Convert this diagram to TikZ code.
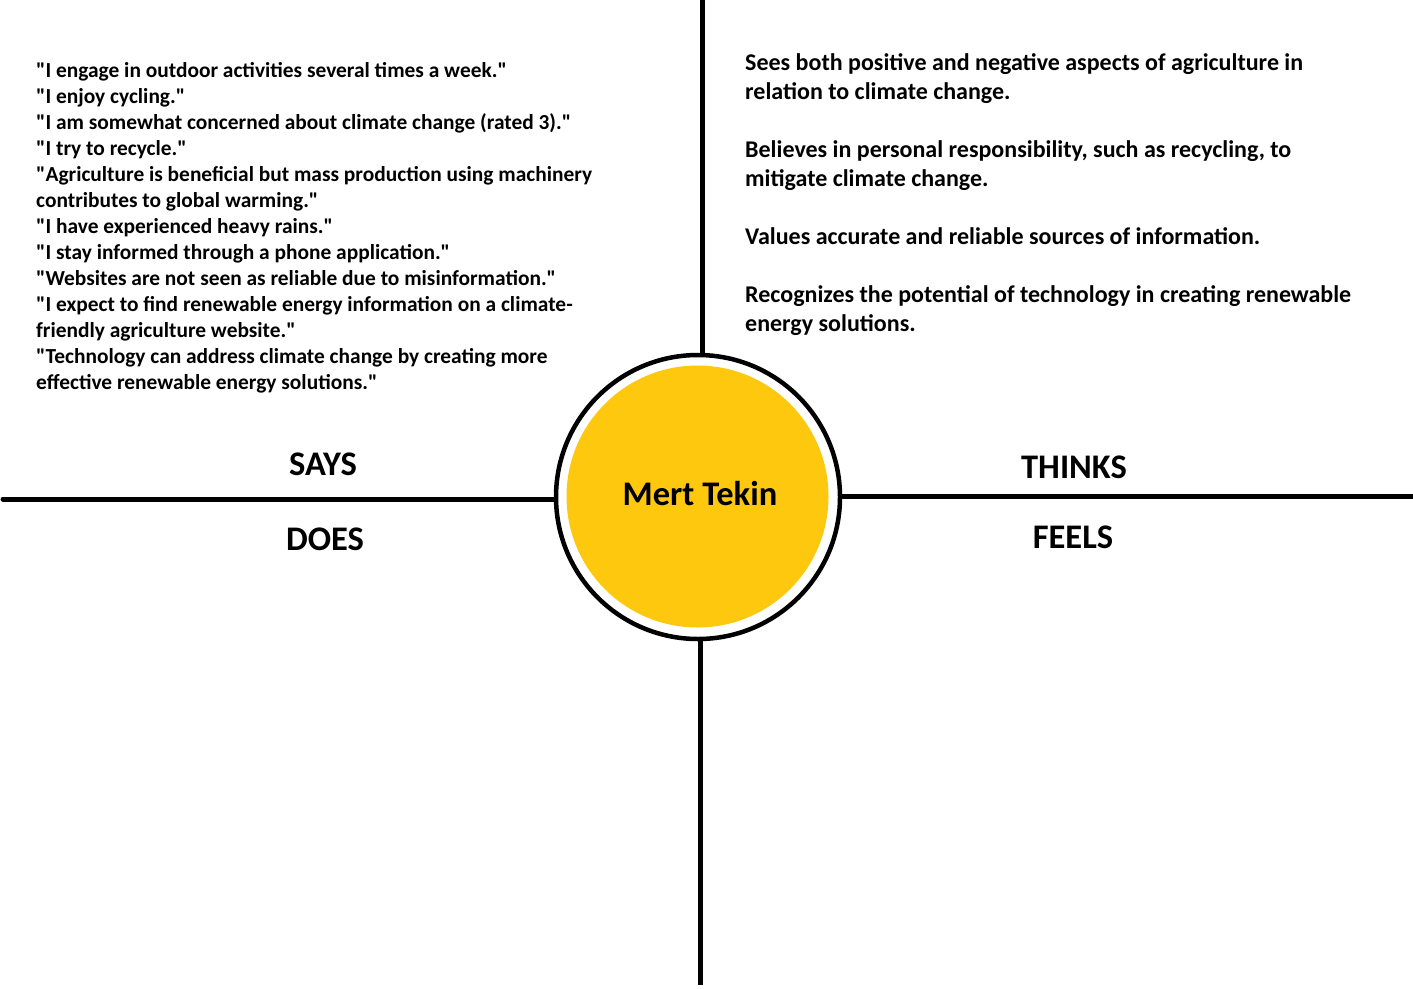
\documentclass[tikz,border=0pt]{standalone}
\usepackage{fontspec}
\setmainfont{Carlito}[Ligatures=TeXOff]
\definecolor{hubyellow}{RGB}{254,200,14}
\begin{document}
\begin{tikzpicture}[x=1pt,y=-1pt,
  axis/.style={line width=5pt,black},
  quadlabel/.style={font=\fontsize{34.5}{40}\selectfont\bfseries,inner sep=0pt,anchor=base},
  leftnotes/.style={font=\fontsize{21.4}{26}\selectfont\bfseries,align=left,inner sep=0pt,anchor=north west},
  rightnotes/.style={font=\fontsize{24}{29}\selectfont\bfseries,align=left,inner sep=0pt,anchor=north west}]
  \useasboundingbox[fill=white] (0,0) rectangle (1413,988);

  % central persona circle
  \node[circle,draw,line width=4.5pt,minimum size=284pt,inner sep=0pt] (ring) at (698,497) {};
  \node[circle,fill=hubyellow,minimum size=262pt,inner sep=0pt] (hub) at (697.5,496.5) {};
  \node[quadlabel] (name) at (700,505) {Mert Tekin};

  % quadrant axes
  \coordinate (ctop) at (702.5,0);
  \coordinate (cbot) at (700.5,985);
  \coordinate (cleft) at (3,499);
  \coordinate (cright) at (1413,496);
  \draw[axis] (ctop) -- (ctop |- ring.north);
  \draw[axis] (cbot |- ring.south) -- (cbot);
  \draw[axis,line cap=round] (cleft) -- (cleft -| ring.west);
  \draw[axis] (cright -| ring.east) -- (cright);

  % quadrant titles
  \node[quadlabel] (says) at (323,475) {SAYS};
  \node[quadlabel] (does) at (325,550) {DOES};
  \node[quadlabel] (thinks) at (1074,478) {THINKS};
  \node[quadlabel] (feels) at (1073,548) {FEELS};

  % quotes
  \node[leftnotes] (quotes) at (36,62) {%
"I engage in outdoor activities several times a week."\\
"I enjoy cycling."\\
"I am somewhat concerned about climate change (rated 3)."\\
"I try to recycle."\\
"Agriculture is beneficial but mass production using machinery\\
contributes to global warming."\\
"I have experienced heavy rains."\\
"I stay informed through a phone application."\\
"Websites are not seen as reliable due to misinformation."\\
"I expect to find renewable energy information on a climate-\\
friendly agriculture website."\\
"Technology can address climate change by creating more\\
effective renewable energy solutions."};

  % thoughts
  \node[rightnotes] (thoughts) at (745,53) {%
Sees both positive and negative aspects of agriculture in\\
relation to climate change.\\[29pt]
Believes in personal responsibility, such as recycling, to\\
mitigate climate change.\\[29pt]
Values accurate and reliable sources of information.\\[29pt]
Recognizes the potential of technology in creating renewable\\
energy solutions.};
\end{tikzpicture}
\end{document}
